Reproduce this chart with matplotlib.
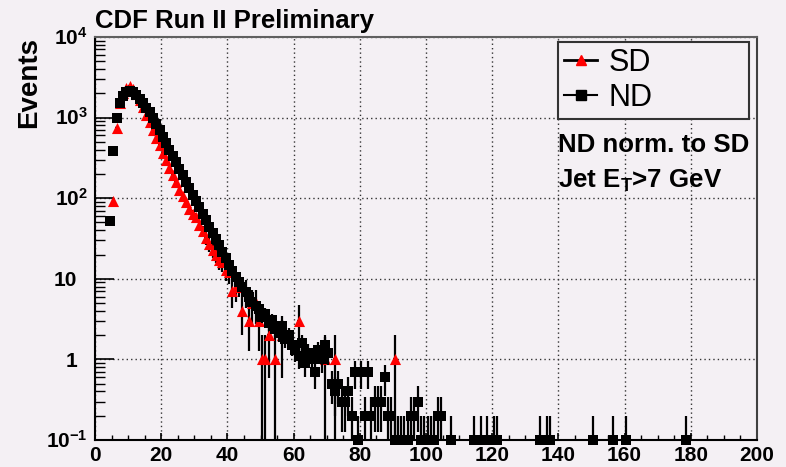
import numpy as np
import matplotlib
matplotlib.use('Agg')
import matplotlib.pyplot as plt
from matplotlib.lines import Line2D
from matplotlib.ticker import MultipleLocator, LogLocator, NullFormatter
from matplotlib.transforms import blended_transform_factory, offset_copy

plt.rcParams['font.family'] = ['Liberation Sans', 'DejaVu Sans']
plt.rcParams['mathtext.fontset'] = 'custom'
plt.rcParams['mathtext.rm'] = 'Liberation Sans:bold'
plt.rcParams['mathtext.bf'] = 'Liberation Sans:bold'
plt.rcParams['mathtext.it'] = 'Liberation Sans:bold'
plt.rcParams['mathtext.default'] = 'bf'

# ND (normalised to SD), bin centres in GeV
nd_x = [4.5, 5.5, 6.5, 7.5, 8.5, 9.5, 10.5, 11.5, 12.5, 13.5, 14.5, 15.5, 16.5,
        17.5, 18.5, 19.5, 20.5, 21.5, 22.5, 23.5, 24.5, 25.5, 26.5, 27.5, 28.5,
        29.5, 30.5, 31.5, 32.5, 33.5, 34.5, 35.5, 36.5, 37.5, 38.5, 39.5, 40.5,
        41.5, 42.5, 43.5, 44.5, 45.5, 46.5, 47.5, 48.5, 49.5, 50.5, 51.5, 52.5,
        53.5, 54.5, 55.5, 56.5, 57.5, 58.5, 59.5, 60.5, 61.5, 62.5, 63.5, 64.5,
        65.5, 66.5, 67.5, 68.5, 69.5, 70.5, 71.5, 72.5, 73.5, 74.5, 75.5, 76.5,
        77.5, 78.5, 79.5, 80.5, 81.5, 82.5, 83.5, 84.5, 85.5, 86.5, 87.5, 88.5,
        89.5, 90.5, 91.5, 92.5, 93.5, 94.5, 95.5, 96.5, 97.5, 98.5, 99.5, 100.5,
        101.5, 102.5, 103.5, 104.5, 107.5, 114.5, 116.5, 118.5, 120.5, 121.5,
        134.5, 136.5, 137.5, 150.5, 156.5, 160.5, 178.5]
nd_y = [52, 385, 1000, 1500, 1850, 2050, 2150, 2050, 1900, 1700, 1500, 1330, 1160,
        1000, 840, 700, 580, 480, 400, 335, 280, 232, 192, 160, 133,
        110, 92, 77, 64, 53, 44, 37, 31, 26, 21.5, 18, 15,
        12.5, 10.5, 9.0, 7.8, 6.8, 6.0, 5.2, 4.6, 4.2, 3.4, 3.7, 2.8,
        3.1, 2.4, 2.1, 2.6, 1.8, 2.0, 1.5, 1.3, 1.1, 1.6, 0.9, 1.2,
        1.0, 0.7, 1.3, 1.0, 1.5, 1.2, 0.5, 0.4, 0.5, 0.3, 0.3, 0.4,
        0.2, 0.7, 0.1, 0.7, 0.2, 0.7, 0.2, 0.3, 0.3, 0.3, 0.6, 0.2,
        0.2, 0.1, 0.1, 0.1, 0.1, 0.1, 0.2, 0.2, 0.3, 0.1, 0.1, 0.1,
        0.1, 0.1, 0.2, 0.2, 0.1, 0.1, 0.1, 0.1, 0.1, 0.1,
        0.1, 0.1, 0.1, 0.1, 0.1, 0.1, 0.1]
nd_weight = 0.1

# SD, raw counts
sd_x = [5.5, 6.5, 7.5, 8.5, 9.5, 10.5, 11.5, 12.5, 13.5, 14.5, 15.5, 16.5, 17.5,
        18.5, 19.5, 20.5, 21.5, 22.5, 23.5, 24.5, 25.5, 26.5, 27.5, 28.5, 29.5,
        30.5, 31.5, 32.5, 33.5, 34.5, 35.5, 36.5, 37.5, 38.5, 39.5, 40.5, 41.5,
        42.5, 43.5, 44.5, 45.5, 46.5, 47.5, 48.5, 49.5, 50.5, 51.5, 52.5, 54.5,
        56.5, 61.5, 69.5, 72.5, 90.5]
sd_y = [92, 750, 1500, 2000, 2350, 2450, 2250, 1950, 1650, 1350, 1080, 870, 700,
        560, 455, 365, 295, 240, 195, 160, 128, 105, 90, 74, 64,
        58, 47, 39, 32, 27, 23, 20, 17, 16, 13, 12, 7,
        8, 9, 4, 7, 3, 5, 5, 3, 1, 1, 2, 1,
        2, 3, 1, 1, 1]

bg = '#f4f0f4'

fig = plt.figure(figsize=(7.86, 4.67), dpi=100, facecolor=bg)
ax = fig.add_axes([95/786, 27/467, 662/786, 403/467], facecolor=bg)
ax.set_yscale('log')
ax.set_xlim(0, 200)
ax.set_ylim(0.1, 1e4)

nd_x = np.array(nd_x)
nd_y = np.array(nd_y)
sd_x = np.array(sd_x)
sd_y = np.array(sd_y, dtype=float)

# SD: black error bars, red triangles
ax.errorbar(sd_x, sd_y, yerr=np.sqrt(sd_y), xerr=0.5, fmt='none',
            ecolor='black', elinewidth=1.6, capsize=0, zorder=3)
ax.scatter(sd_x, sd_y, marker='^', s=8**2, c='red', linewidths=0, zorder=3.2)

# ND: black error bars, black squares
ax.errorbar(nd_x, nd_y, yerr=np.sqrt(nd_y * nd_weight), xerr=0.5, fmt='none',
            ecolor='black', elinewidth=1.6, capsize=0, zorder=4)
ax.scatter(nd_x, nd_y, marker='s', s=7.8**2, c='black', linewidths=0,
           zorder=4.2, clip_on=False)

ax.set_xlim(0, 200)
ax.set_ylim(0.1, 1e4)

ax.xaxis.set_major_locator(MultipleLocator(20))
ax.xaxis.set_minor_locator(MultipleLocator(5))
ax.yaxis.set_major_locator(LogLocator(base=10, numticks=10))
ax.yaxis.set_minor_locator(LogLocator(base=10, subs=np.arange(2, 10), numticks=20))
ax.yaxis.set_major_formatter(NullFormatter())
ax.yaxis.set_minor_formatter(NullFormatter())

ax.tick_params(axis='x', which='major', direction='in', length=5, width=1.2,
               labelsize=15, pad=4, top=False)
ax.tick_params(axis='x', which='minor', direction='in', length=3.5, width=1, top=False)
ax.tick_params(axis='y', which='major', direction='in', length=14, width=1.2, right=False)
ax.tick_params(axis='y', which='minor', direction='in', length=7, width=1, right=False)
for lab in ax.get_xticklabels():
    lab.set_fontweight('bold')

# y tick labels, ROOT style
ylab_vals = [1e4, 1e3, 1e2, 10, 1, 0.1]
ylab_text = [r'$10^{4}$', r'$10^{3}$', r'$10^{2}$', '10', '1', r'$10^{-1}$']
trans = offset_copy(blended_transform_factory(ax.transAxes, ax.transData),
                    fig=fig, x=0, y=-5.5, units='points')
for v, t in zip(ylab_vals, ylab_text):
    xpos = -0.0106 if '^' in t else -0.0272
    ax.text(xpos, v, t, transform=trans, ha='right', va='baseline',
            fontsize=15, fontweight='bold', clip_on=False)

ax.grid(True, which='major', linestyle=(0, (1, 2.2)), color='#333333', linewidth=1)
ax.set_axisbelow(True)

for s in ['left', 'bottom']:
    ax.spines[s].set_color('black')
    ax.spines[s].set_linewidth(1.5)
ax.spines['top'].set_color('#606060')
ax.spines['right'].set_color('#404040')
ax.spines['top'].set_linewidth(1.5)
ax.spines['right'].set_linewidth(1.5)

handles = [Line2D([], [], color='black', lw=2, marker='^', ms=7, mfc='red', mec='red'),
           Line2D([], [], color='black', lw=1.5, marker='s', ms=7, mfc='black', mec='black')]
leg = ax.legend(handles, ['SD', 'ND'], loc='upper left',
                bbox_to_anchor=(0.699, 0.804, 0.289, 0.184), mode='expand',
                fontsize=22, frameon=True, fancybox=False, framealpha=1,
                facecolor=bg, edgecolor='#333333', handlelength=1.1,
                borderaxespad=0, borderpad=0.2, labelspacing=0.15,
                handletextpad=0.35)
leg.get_frame().set_linewidth(1.5)

ax.text(0.699, 0.715, 'ND norm. to SD', transform=ax.transAxes, fontsize=18.6,
        fontweight='bold', va='baseline')
ax.text(0.699, 0.625, r'Jet E$_{T}$>7 GeV', transform=ax.transAxes, fontsize=18.6,
        fontweight='bold', va='baseline')

fig.text(95/786, 1 - 28/467, 'CDF Run II Preliminary', fontsize=18.5,
         fontweight='bold', va='baseline', ha='left')
fig.text(29/786, 1 - 37/467, 'Events', rotation=90, ha='center', va='top',
         fontsize=20, fontweight='bold')

fig.savefig('out.png', dpi=100, facecolor=bg)
